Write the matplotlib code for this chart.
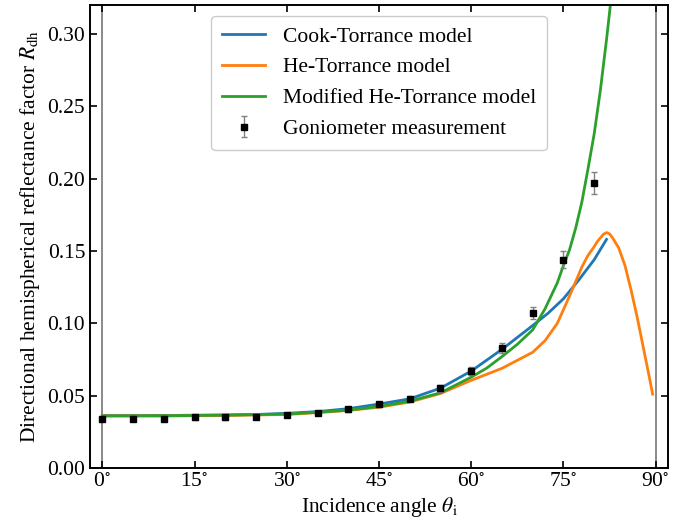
import numpy as np
import matplotlib
matplotlib.use("Agg")
import matplotlib.pyplot as plt

plt.rcParams['font.family'] = ['Liberation Serif', 'DejaVu Serif']
plt.rcParams['mathtext.fontset'] = 'stix'
plt.rcParams['font.size'] = 15.5

meas_angle = [0, 5, 10, 15, 20, 25, 30, 35, 40, 45, 50, 55, 60, 65, 70, 75, 80]
meas_val = [0.034, 0.034, 0.034, 0.035, 0.035, 0.0355, 0.0365, 0.038, 0.0405,
            0.044, 0.048, 0.055, 0.067, 0.083, 0.107, 0.144, 0.197]
meas_err = [0.0015, 0.0015, 0.0015, 0.0015, 0.0015, 0.0015, 0.0015, 0.0016, 0.0017,
            0.0018, 0.002, 0.0022, 0.0027, 0.0034, 0.0043, 0.0057, 0.0079]

# model curves
cook_angle = [0, 10, 20, 25, 30, 35, 40, 45, 50, 55, 60, 65, 70, 72.5, 75, 77.5, 80, 82]
cook_val = [0.0362, 0.0363, 0.0367, 0.037, 0.0378, 0.039, 0.041, 0.0442, 0.0478,
            0.0552, 0.067, 0.082, 0.0985, 0.107, 0.117, 0.130, 0.144, 0.158]

he_angle = [0, 10, 20, 30, 35, 40, 45, 50, 55, 60, 65, 70, 72, 74, 76, 78, 79, 80,
            80.5, 81, 81.5, 82, 82.5, 83, 84, 85, 86, 87, 88, 89, 89.5]
he_val = [0.036, 0.036, 0.0363, 0.037, 0.0383, 0.0398, 0.042, 0.0456, 0.0515, 0.0606,
          0.0689, 0.080, 0.088, 0.100, 0.119, 0.139, 0.147, 0.153, 0.1565, 0.159,
          0.1615, 0.1627, 0.1618, 0.159, 0.152, 0.140, 0.123, 0.104, 0.083, 0.062, 0.051]

mod_angle = [0, 10, 20, 30, 35, 40, 45, 50, 55, 60, 62.5, 65, 67.5, 70, 72, 74, 75, 76,
             77, 78, 79, 80, 81, 82, 83]
mod_val = [0.036, 0.0361, 0.0365, 0.0373, 0.0385, 0.040, 0.0425, 0.0462, 0.052, 0.0628,
           0.069, 0.077, 0.0855, 0.0955, 0.110, 0.128, 0.140, 0.151, 0.166, 0.184,
           0.207, 0.231, 0.261, 0.296, 0.334]

fig = plt.figure(figsize=(6.84, 5.21), dpi=100)
ax = fig.add_axes([0.1316, 0.1017, 0.845, 0.8887])

ax.axvline(0, color='gray', lw=1.3, zorder=1)
ax.axvline(90, color='gray', lw=1.3, zorder=1)

ax.plot(cook_angle, cook_val, color='tab:blue', lw=2, label='Cook-Torrance model', zorder=2)
ax.plot(he_angle, he_val, color='tab:orange', lw=2, label='He-Torrance model', zorder=2)
ax.plot(mod_angle, mod_val, color='tab:green', lw=2, label='Modified He-Torrance model', zorder=2)
ax.errorbar(meas_angle, meas_val, yerr=meas_err, fmt='s', color='black', ms=4.5,
            ecolor='gray', elinewidth=1, capsize=2.5, capthick=1,
            label='Goniometer measurement', zorder=3)

ax.set_xlim(-2, 92)
ax.set_ylim(0, 0.32)
ax.set_xticks([0, 15, 30, 45, 60, 75, 90])
ax.set_xticklabels([r'0$^{\circ}$', r'15$^{\circ}$', r'30$^{\circ}$', r'45$^{\circ}$',
                    r'60$^{\circ}$', r'75$^{\circ}$', r'90$^{\circ}$'])
ax.set_yticks([0, 0.05, 0.10, 0.15, 0.20, 0.25, 0.30])
ax.set_yticklabels(['0.00', '0.05', '0.10', '0.15', '0.20', '0.25', '0.30'])
ax.tick_params(direction='in', top=True, right=True, length=5, width=1.2)
for s in ax.spines.values():
    s.set_linewidth(1.4)

ax.set_xlabel(r'Incidence angle $\theta_\mathrm{i}$', labelpad=2)
ax.set_ylabel(r'Directional hemispherical reflectance factor $R_\mathrm{dh}$', labelpad=4)

ax.legend(loc='upper center', frameon=True, fancybox=True, edgecolor='#cccccc',
          framealpha=1, borderpad=0.5, handlelength=2.0)

fig.savefig('out.png', dpi=100)
